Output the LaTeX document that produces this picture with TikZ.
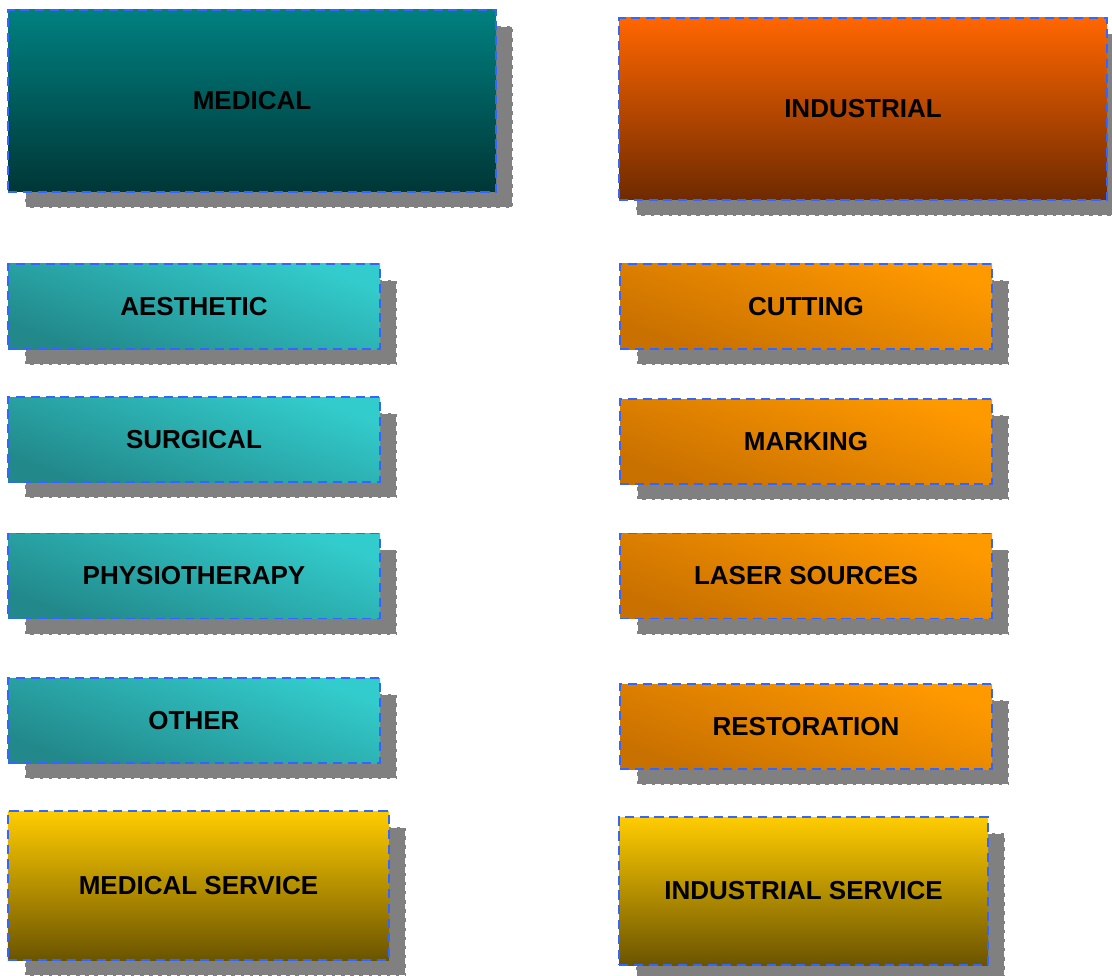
\documentclass[tikz,border=0pt]{standalone}
\usepackage{fontspec}
\setmainfont{Liberation Sans}
\usepackage{xcolor}
\usetikzlibrary{shadows, positioning}
\definecolor{tealtop}{HTML}{008080}
\definecolor{tealbottom}{HTML}{003636}
\definecolor{rusttop}{HTML}{FF6600}
\definecolor{rustbottom}{HTML}{6E2A00}
\definecolor{aqualight}{HTML}{33CCCC}
\definecolor{aquadark}{HTML}{22888A}
\definecolor{amberlight}{HTML}{FF9900}
\definecolor{amberdark}{HTML}{C87000}
\definecolor{goldtop}{HTML}{FFCC00}
\definecolor{goldbottom}{HTML}{6B5400}
\definecolor{edgeblue}{HTML}{3366FF}
\definecolor{shadowgray}{HTML}{808080}

\tikzset{
  field/.style={rectangle, inner sep=0pt, draw=edgeblue, line width=1.4pt,
    dash pattern=on 6.5pt off 4pt, font=\fontsize{18.5}{18.5}\selectfont\bfseries,
    general shadow={fill=shadowgray, draw=white, line width=1.2pt, dash pattern=on 4pt off 2.5pt,
      shadow xshift=0.42cm, shadow yshift=-0.4cm}},
  bigfield/.style={field, minimum width=12.2cm, minimum height=4.55cm},
  subfield/.style 2 args={field, minimum width=9.3cm, minimum height=2.125cm,
    top color=#1, bottom color=#2, shading angle=-20},
  servicefield/.style={field, top color=goldtop, bottom color=goldbottom}
}

\begin{document}
\begin{tikzpicture}
  \useasboundingbox (0,0) rectangle (27.8,-24.4);

  % Main areas
  \node[bigfield, top color=tealtop, bottom color=tealbottom] (medical) at (6.3,-2.525) {MEDICAL};
  \node[bigfield, top color=rusttop, bottom color=rustbottom] (industrial) at (21.575,-2.725) {INDUSTRIAL};

  % Medical branches
  \foreach \name/\y/\label in {aesthetic/-7.6625/AESTHETIC, surgical/-10.9875/SURGICAL, physiotherapy/-14.4/PHYSIOTHERAPY, other/-18.0125/OTHER} {
    \node[subfield={aqualight}{aquadark}] (\name) at (4.85,\y) {\label};
  }

  % Industrial branches
  \foreach \name/\y/\label in {cutting/-7.6625/CUTTING, marking/-11.0375/MARKING, sources/-14.4/LASER SOURCES, restoration/-18.1625/RESTORATION} {
    \node[subfield={amberlight}{amberdark}] (\name) at (20.15,\y) {\label};
  }

  % Service
  \node[servicefield, minimum width=9.525cm, minimum height=3.725cm] (medservice) at (4.9625,-22.1375) {MEDICAL SERVICE};
  \node[servicefield, minimum width=9.225cm, minimum height=3.7cm] (indservice) at (20.0875,-22.275) {INDUSTRIAL SERVICE};
\end{tikzpicture}
\end{document}
